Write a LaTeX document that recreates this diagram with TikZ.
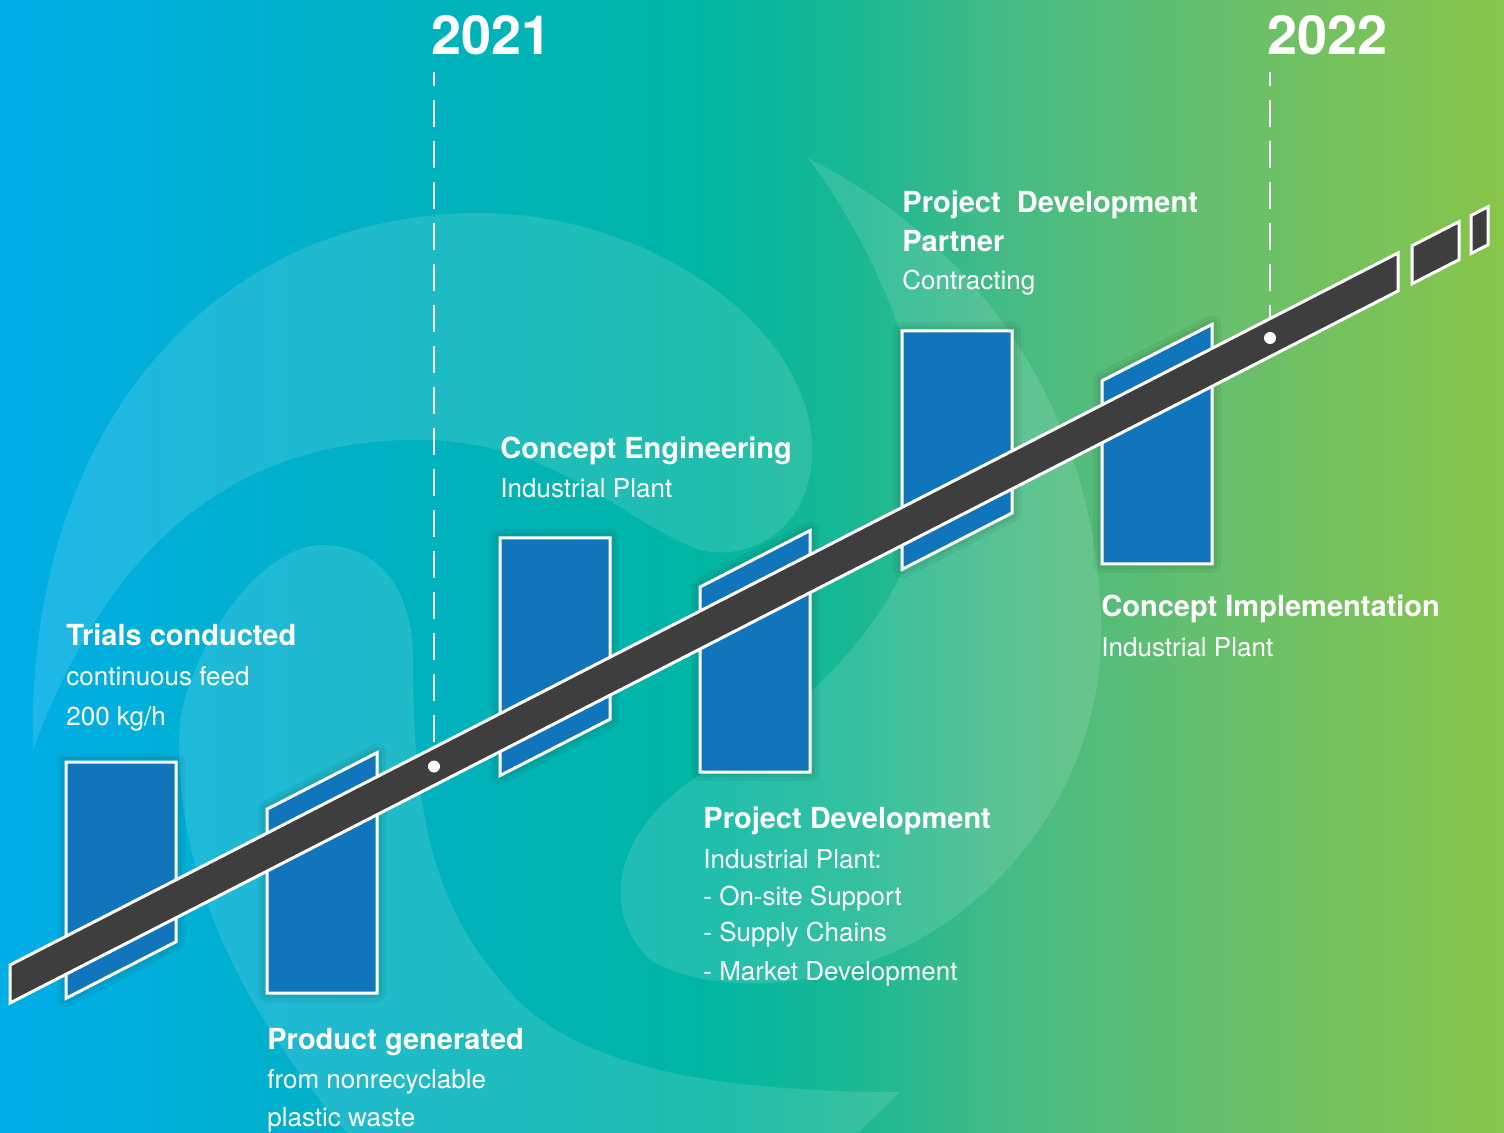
\documentclass[tikz,border=0pt]{standalone}
\usepackage{fontspec}
\setmainfont{TeX Gyre Heros}
\usetikzlibrary{calc}
\definecolor{bgA}{HTML}{00AEE8}
\definecolor{bgB}{HTML}{00B2BE}
\definecolor{bgC}{HTML}{00B6A3}
\definecolor{bgD}{HTML}{18B893}
\definecolor{bgE}{HTML}{44BB86}
\definecolor{bgF}{HTML}{64BF6E}
\definecolor{bgG}{HTML}{88C54A}
\definecolor{boxblue}{HTML}{1175BB}
\definecolor{bargray}{HTML}{3E3E3E}
\tikzset{
  swirl/.style={fill=white, fill opacity=0.12},
  softshadow/.style={preaction={draw=black, draw opacity=0.05, line width=9pt, line join=round},
                     preaction={draw=black, draw opacity=0.05, line width=5pt, line join=round}},
  stagebox/.style={softshadow, fill=boxblue, draw=white, line width=1.5pt, line join=miter},
  barpart/.style={fill=bargray, draw=white, line width=1.5pt, line join=miter},
  yearline/.style={draw=white, line width=1.25pt, dash pattern=on 13.5pt off 7pt, dash phase=6.5pt},
  yeardot/.style={circle, fill=white, inner sep=0pt, minimum size=6pt},
  yearlabel/.style={anchor=base west, inner sep=0pt, text=white, font=\bfseries\fontsize{27}{30}\selectfont},
  head/.style={anchor=base west, inner sep=0pt, text=white, font=\bfseries\fontsize{14.5}{17}\selectfont},
  sub/.style={anchor=base west, inner sep=0pt, text=white, font=\fontsize{13}{16}\selectfont}
}
\begin{document}
\begin{tikzpicture}[x=0.5pt,y=-0.5pt]
\useasboundingbox (0,0) rectangle (1504,1133);
% background gradient
\shade[left color=bgA, right color=bgB] (0,0) rectangle (431,1133);
\shade[left color=bgB, right color=bgC] (430,0) rectangle (701,1133);
\shade[left color=bgC, right color=bgD] (700,0) rectangle (851,1133);
\shade[left color=bgD, right color=bgE] (850,0) rectangle (1001,1133);
\shade[left color=bgE, right color=bgF] (1000,0) rectangle (1201,1133);
\shade[left color=bgF, right color=bgG] (1200,0) rectangle (1504,1133);
% faint swirl logo
\begin{scope}
\clip (0,0) rectangle (1504,1133);
% upper left hook
\fill[swirl] (33,750) .. controls (25,420) and (220,213) .. (480,213)
  .. controls (650,213) and (820,330) .. (812,460)
  .. controls (805,540) and (740,560) .. (700,550)
  .. controls (620,520) and (560,445) .. (430,440)
  .. controls (240,435) and (110,540) .. (33,750) -- cycle;
% lower left band with dome
\fill[swirl] (380,1170) .. controls (250,1030) and (170,880) .. (180,720)
  .. controls (195,640) and (260,548) .. (320,545)
  .. controls (380,545) and (413,590) .. (413,660)
  .. controls (413,800) and (430,900) .. (500,980)
  .. controls (550,1045) and (650,1092) .. (900,1092)
  -- (820,1170) -- cycle;
% right hook
\fill[swirl] (808,158) .. controls (870,240) and (930,370) .. (925,480)
  .. controls (920,600) and (820,700) .. (700,775)
  .. controls (620,825) and (595,905) .. (650,960)
  .. controls (720,1000) and (850,990) .. (950,920)
  .. controls (1060,840) and (1110,720) .. (1100,600)
  .. controls (1090,420) and (990,250) .. (808,158) -- cycle;
\end{scope}
% year markers
\coordinate (ya-top) at (434,72);
\coordinate (ya-bot) at (434,752);
\coordinate (yb-top) at (1270,72);
\coordinate (yb-bot) at (1270,322);
\draw[yearline] (ya-top) -- (ya-bot);
\draw[yearline] (yb-top) -- (yb-bot);
\node[yearlabel] (y2021) at (431,55) {2021};
\node[yearlabel] (y2022) at (1267,55) {2022};
% stage boxes
\draw[stagebox] (66,762) -- (176,762) -- (176,941.8) -- (66,998.3) -- cycle;
\draw[stagebox] (267,809.2) -- (377,752.7) -- (377,993) -- (267,993) -- cycle;
\draw[stagebox] (500,538) -- (610,538) -- (610,719.2) -- (500,775.6) -- cycle;
\draw[stagebox] (700,587) -- (810,530.6) -- (810,772) -- (700,772) -- cycle;
\draw[stagebox] (902,331) -- (1012,331) -- (1012,513) -- (902,569.4) -- cycle;
\draw[stagebox] (1102,380.8) -- (1212,324.4) -- (1212,564) -- (1102,564) -- cycle;
% timeline bar
\draw[barpart] (10,965) -- (1398,253) -- (1398,291) -- (10,1003) -- cycle;
\draw[barpart] (1412,245.8) -- (1459,221.7) -- (1459,259.7) -- (1412,283.8) -- cycle;
\draw[barpart] (1471,215.5) -- (1488,206.8) -- (1488,244.8) -- (1471,253.5) -- cycle;
\node[yeardot] (dot2021) at (434,766.5) {};
\node[yeardot] (dot2022) at (1270,338) {};
% labels
\node[head] (t1a) at (66,645) {Trials conducted};
\node[sub]  (t1b) at (66,685) {continuous feed};
\node[sub]  (t1c) at (66,725) {200 kg/h};
\node[head] (t2a) at (267,1049) {Product generated};
\node[sub]  (t2b) at (267,1088) {from nonrecyclable};
\node[sub]  (t2c) at (267,1126) {plastic waste};
\node[head] (t3a) at (500,459) {Concept Engineering};
\node[sub]  (t3b) at (500,498) {Industrial Plant};
\node[head] (t4a) at (703,828) {Project Development};
\node[sub]  (t4b) at (703,868) {Industrial Plant:};
\node[sub]  (t4c) at (703,905) {- On-site Support};
\node[sub]  (t4d) at (703,941) {- Supply Chains};
\node[sub]  (t4e) at (703,980) {- Market Development};
\node[head] (t5a) at (902,213) {Project\ \ Development};
\node[head] (t5b) at (902,252) {Partner};
\node[sub]  (t5c) at (902,290) {Contracting};
\node[head] (t6a) at (1101,617) {Concept Implementation};
\node[sub]  (t6b) at (1101,656) {Industrial Plant};
\end{tikzpicture}
\end{document}
